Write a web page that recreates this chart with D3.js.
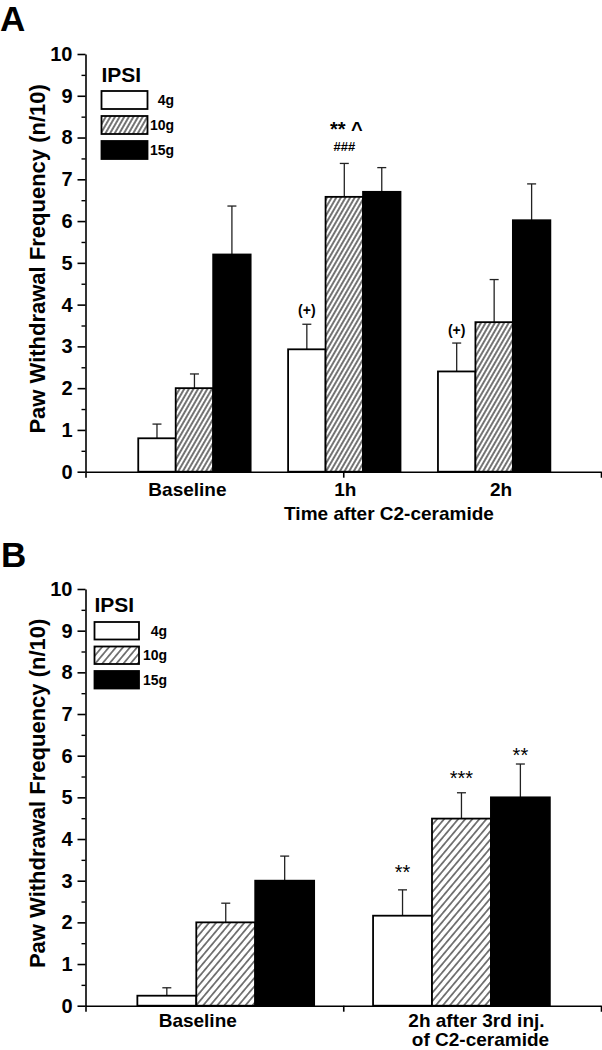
<!DOCTYPE html>
<html>
<head>
<meta charset="utf-8">
<script src="https://cdn.jsdelivr.net/npm/d3@7/dist/d3.min.js"></script>
<style>
  html, body { margin: 0; padding: 0; background: #fff; }
  svg { display: block; }
  text { font-family: "Liberation Sans", Arial, Helvetica, sans-serif; fill: #000; }
</style>
</head>
<body>
<svg id="chart" width="602" height="1050"></svg>
<script>
// ---------------- DATA ----------------
const seriesNames = ["4g", "10g", "15g"];
const yTicks = [0, 1, 2, 3, 4, 5, 6, 7, 8, 9, 10];

// Panel A
const categoriesA = ["Baseline", "1h", "2h"];
const meansA_4g  = [0.80, 2.93, 2.40];
const meansA_10g = [2.00, 6.58, 3.58];
const meansA_15g = [5.20, 6.70, 6.02];
const errA_4g  = [0.34, 0.60, 0.68];
const errA_10g = [0.34, 0.80, 1.02];
const errA_15g = [1.16, 0.58, 0.87];
const annotA_text = ["(+)", "(+)", "###", "** ^"];
const annotA_cat  = [1, 2, 1, 1];
const annotA_ser  = [0, 0, 1, 1];
const annotA_val  = [3.87, 3.39, 7.78, 8.33];

// Panel B
const categoriesB = [["Baseline"], ["2h after 3rd inj.", "of C2-ceramide"]];
const meansB_4g  = [0.24, 2.16];
const meansB_10g = [2.00, 4.49];
const meansB_15g = [3.00, 5.00];
const errB_4g  = [0.19, 0.62];
const errB_10g = [0.46, 0.62];
const errB_15g = [0.59, 0.80];
const annotB_text = ["**", "***", "**"];
const annotB_cat  = [1, 1, 1];
const annotB_ser  = [0, 1, 2];
const annotB_val  = [3.33, 5.59, 6.13];

// ---------------- DRAW ----------------
const svg = d3.select("#chart");
const defs = svg.append("defs");

function makeHatch(id, spacing, angle, sw) {
  const p = defs.append("pattern")
    .attr("id", id)
    .attr("patternUnits", "userSpaceOnUse")
    .attr("width", spacing).attr("height", spacing)
    .attr("patternTransform", `rotate(${angle})`);
  p.append("rect").attr("width", spacing).attr("height", spacing).attr("fill", "#fff");
  p.append("line")
    .attr("x1", spacing / 2).attr("x2", spacing / 2)
    .attr("y1", -1).attr("y2", spacing + 1)
    .attr("stroke", "#000").attr("stroke-width", sw);
}
makeHatch("hatchA", 4.0, 30, 1.1);
makeHatch("hatchB", 5.4, 40, 1.0);

const FONT = '"Liberation Sans", Arial, Helvetica, sans-serif';

function drawPanel(cfg) {
  const g = svg.append("g");
  const x = d3.scaleLinear().domain(cfg.xDomain).range([cfg.left, cfg.right]);
  const y = d3.scaleLinear().domain([0, 10]).range([cfg.bottom, cfg.top]);
  const fills = ["#fff", `url(#${cfg.hatch})`, "#000"];
  const bw = 0.25; // bar width in category units

  // bars
  cfg.means.forEach((arr, s) => {
    arr.forEach((v, c) => {
      const cx = c + (s - 1) * bw;
      const x0 = x(cx - bw / 2), x1 = x(cx + bw / 2);
      const e = cfg.errs[s][c];
      const ex = (x0 + x1) / 2;
      g.append("line")
        .attr("x1", ex).attr("x2", ex)
        .attr("y1", y(v)).attr("y2", y(v + e))
        .attr("stroke", "#222").attr("stroke-width", 1.3);
      g.append("line")
        .attr("x1", ex - 4.5).attr("x2", ex + 4.5)
        .attr("y1", y(v + e)).attr("y2", y(v + e))
        .attr("stroke", "#222").attr("stroke-width", 1.3);
      g.append("rect")
        .attr("x", x0).attr("y", y(v))
        .attr("width", x1 - x0).attr("height", y(0) - y(v))
        .attr("fill", fills[s])
        .attr("stroke", "#000").attr("stroke-width", 1.8);
    });
  });

  // annotations
  cfg.annot.text.forEach((t, i) => {
    const cx = cfg.annot.cat[i] + (cfg.annot.ser[i] - 1) * bw;
    const isStar = t.indexOf("*") >= 0;
    const fs = isStar ? cfg.starSize : (t === "###" ? 13 : 14);
    let dy = "0.33em";
    if (isStar) dy = "0.6em";
    if (t === "###") dy = "0.36em";
    g.append("text")
      .attr("x", x(cx) + (t === "** ^" ? 2 : 0))
      .attr("y", y(cfg.annot.val[i]))
      .attr("dy", dy)
      .attr("text-anchor", "middle")
      .attr("font-size", fs)
      .attr("font-weight", isStar ? cfg.starWeight : "bold")
      .text(t);
  });

  // y axis
  const yAxis = d3.axisLeft(y).tickValues(yTicks).tickSize(8).tickSizeOuter(0).tickPadding(5)
    .tickFormat(d3.format("d"));
  const ya = g.append("g").attr("transform", `translate(${cfg.left},0)`).call(yAxis);
  ya.select(".domain").attr("stroke-width", 1.6);
  ya.selectAll(".tick line").attr("stroke-width", 1.6);
  ya.selectAll(".tick text").attr("font-size", 20).attr("font-weight", "bold")
    .attr("font-family", FONT).attr("fill", "#000");
  const minor = d3.range(0.5, 10, 1);
  const ym = g.append("g").attr("transform", `translate(${cfg.left},0)`)
    .call(d3.axisLeft(y).tickValues(minor).tickSize(4).tickSizeOuter(0).tickFormat(""));
  ym.select(".domain").remove();
  ym.selectAll(".tick line").attr("stroke-width", 1.4);

  // x axis
  const mid = (cfg.xDomain[0] + cfg.xDomain[1]) / 2;
  const xAxis = d3.axisBottom(x).tickValues([cfg.xDomain[0], mid, cfg.xDomain[1]])
    .tickSize(6).tickSizeOuter(0).tickFormat("");
  const xa = g.append("g").attr("transform", `translate(0,${cfg.bottom})`).call(xAxis);
  xa.select(".domain").attr("stroke-width", 1.6);
  xa.selectAll(".tick line").attr("stroke-width", 1.6);

  // category labels
  cfg.categories.forEach((lab, c) => {
    const lines = Array.isArray(lab) ? lab : [lab];
    lines.forEach((ln, k) => {
      g.append("text")
        .attr("x", x(c) + cfg.labelOffsets[c][k])
        .attr("y", cfg.bottom + cfg.labelDy + k * 19.5)
        .attr("text-anchor", "middle")
        .attr("font-size", 19).attr("font-weight", "bold")
        .text(ln);
    });
  });

  // y title
  const ty = (y(0) + y(10)) / 2 - 4;
  g.append("text")
    .attr("transform", `translate(37,${ty}) rotate(-90)`)
    .attr("text-anchor", "middle")
    .attr("dy", "0.35em")
    .attr("font-size", 22).attr("font-weight", "bold")
    .text("Paw Withdrawal Frequency (n/10)");

  // panel letter
  g.append("text")
    .attr("x", cfg.letterX).attr("y", cfg.letterY)
    .attr("font-size", 35).attr("font-weight", "bold")
    .text(cfg.letter);

  // legend
  const L = cfg.legend;
  g.append("text").attr("x", L.x).attr("y", L.titleY)
    .attr("font-size", 21).attr("font-weight", "bold").text("IPSI");
  seriesNames.forEach((nm, s) => {
    const by = L.boxY + s * L.step;
    g.append("rect")
      .attr("x", L.x).attr("y", by)
      .attr("width", L.boxW).attr("height", L.boxH)
      .attr("fill", fills[s]).attr("stroke", "#000").attr("stroke-width", 1.8);
    g.append("text")
      .attr("x", L.labelRight).attr("y", by + L.boxH / 2)
      .attr("dy", "0.36em")
      .attr("text-anchor", "end")
      .attr("font-size", 14).attr("font-weight", "bold")
      .text(nm);
  });

  return g;
}

// Panel A
const panelA = drawPanel({
  letter: "A", letterX: 0, letterY: 31,
  left: 85.5, right: 601, top: 54, bottom: 471.7,
  xDomain: [-0.727, 2.713],
  hatch: "hatchA",
  categories: categoriesA,
  labelOffsets: [[-7], [1], [7]],
  labelDy: 24,
  means: [meansA_4g, meansA_10g, meansA_15g],
  errs: [errA_4g, errA_10g, errA_15g],
  annot: { text: annotA_text, cat: annotA_cat, ser: annotA_ser, val: annotA_val },
  starSize: 20, starWeight: "bold",
  legend: { x: 101.5, titleY: 82, boxY: 91, step: 25, boxW: 46, boxH: 18, labelRight: 174 }
});
panelA.append("text")
  .attr("x", 389).attr("y", 520)
  .attr("text-anchor", "middle")
  .attr("font-size", 19).attr("font-weight", "bold")
  .text("Time after C2-ceramide");

// Panel B
drawPanel({
  letter: "B", letterX: 1, letterY: 567,
  left: 85.5, right: 601, top: 589, bottom: 1005.7,
  xDomain: [-0.595, 1.592],
  hatch: "hatchB",
  categories: categoriesB,
  labelOffsets: [[-28], [15, 19]],
  labelDy: 21,
  means: [meansB_4g, meansB_10g, meansB_15g],
  errs: [errB_4g, errB_10g, errB_15g],
  annot: { text: annotB_text, cat: annotB_cat, ser: annotB_ser, val: annotB_val },
  starSize: 20, starWeight: "normal",
  legend: { x: 94.5, titleY: 612, boxY: 622, step: 24.5, boxW: 44.5, boxH: 17.5, labelRight: 167 }
});
</script>
</body>
</html>
